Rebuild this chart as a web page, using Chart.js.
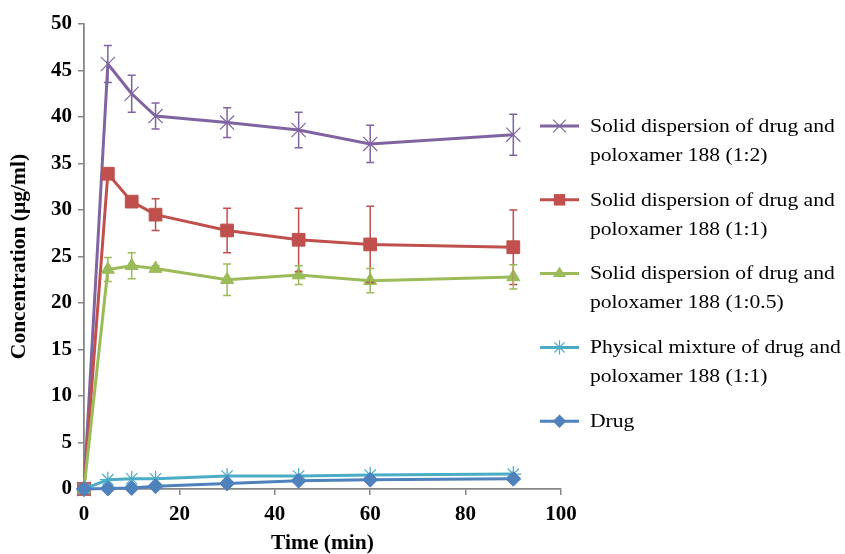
<!DOCTYPE html>
<html>
<head>
<meta charset="utf-8">
<script src="https://cdn.jsdelivr.net/npm/chart.js@4"></script>
<style>
  body { margin: 0; background: #fff; }
  #wrap { width: 845px; height: 554px; position: relative; }
</style>
</head>
<body>
<div id="wrap"><canvas id="myChart"></canvas></div>
<script>
// time points (min)
var times = [0, 5, 10, 15, 30, 45, 60, 90];

// concentrations (ug/ml) and their error bars
var sd12 = [0, 45.7, 42.5, 40.1, 39.4, 38.6, 37.1, 38.1];
var sd12Err = [0, 2.0, 2.0, 1.4, 1.6, 1.9, 2.0, 2.2];
var sd11 = [0, 33.9, 30.9, 29.5, 27.8, 26.8, 26.3, 26.0];
var sd11Err = [0, 0.3, 0.3, 1.7, 2.4, 3.4, 4.1, 4.0];
var sd105 = [0, 23.6, 24.0, 23.7, 22.5, 23.0, 22.4, 22.8];
var sd105Err = [0, 1.3, 1.4, 0.3, 1.7, 1.0, 1.3, 1.3];
var pm11 = [0, 1.0, 1.1, 1.1, 1.4, 1.4, 1.5, 1.6];
var drug = [0, 0.05, 0.1, 0.3, 0.6, 0.9, 1.0, 1.1];

var names = [
    ["Solid dispersion of drug and", "poloxamer 188 (1:2)"],
    ["Solid dispersion of drug and", "poloxamer 188 (1:1)"],
    ["Solid dispersion of drug and", "poloxamer 188 (1:0.5)"],
    ["Physical mixture of drug and", "poloxamer 188 (1:1)"],
    ["Drug"]
];
var yTicks = [0, 5, 10, 15, 20, 25, 30, 35, 40, 45, 50];
var xTicks = [0, 20, 40, 60, 80, 100];

function pts(vals) {
    return times.map(function (t, i) { return { x: t, y: vals[i] }; });
}

function mkSet(i, vals, err, color, style, r, order) {
    return {
        label: names[i].join(" "),
        data: pts(vals),
        err: err,
        borderColor: color,
        backgroundColor: color,
        borderWidth: 3,
        pointStyle: style,
        pointRadius: r,
        pointHoverRadius: r,
        pointBackgroundColor: color,
        pointBorderColor: color,
        pointBorderWidth: (style == 'crossRot' || style == 'star') ? 1.2 : 1,
        tension: 0,
        clip: false,
        order: order
    };
}

var datasets = [
    mkSet(0, sd12, sd12Err, '#8064A2', 'crossRot', 10, 4),
    mkSet(1, sd11, sd11Err, '#C0504D', 'rect', 9, 3),
    mkSet(2, sd105, sd105Err, '#9BBB59', 'triangle', 7.5, 2),
    mkSet(3, pm11, null, '#4BACC6', 'star', 8, 1),
    mkSet(4, drug, null, '#4F81BD', 'rectRot', 7.5, 0)
];

// vertical error bars with caps, drawn through the scales
var errorBars = {
    id: 'errorBars',
    afterDatasetsDraw: function (chart) {
        var ctx = chart.ctx;
        var ys = chart.scales.y;
        chart.data.datasets.forEach(function (ds, di) {
            if (!ds.err) return;
            var meta = chart.getDatasetMeta(di);
            ctx.save();
            ctx.strokeStyle = ds.borderColor;
            ctx.lineWidth = 1.5;
            meta.data.forEach(function (el, i) {
                var e = ds.err[i];
                if (!e) return;
                var v = ds.data[i].y;
                var top = ys.getPixelForValue(v + e);
                var bot = ys.getPixelForValue(v - e);
                ctx.beginPath();
                ctx.moveTo(el.x, top); ctx.lineTo(el.x, bot);
                ctx.moveTo(el.x - 4, top); ctx.lineTo(el.x + 4, top);
                ctx.moveTo(el.x - 4, bot); ctx.lineTo(el.x + 4, bot);
                ctx.stroke();
            });
            ctx.restore();
        });
    }
};

function marker(ctx, style, r, x, y) {
    ctx.beginPath();
    if (style == 'rect') {
        var s = r * Math.SQRT1_2;
        ctx.rect(x - s, y - s, 2 * s, 2 * s);
        ctx.fill();
    } else if (style == 'rectRot') {
        ctx.moveTo(x - r, y); ctx.lineTo(x, y - r); ctx.lineTo(x + r, y); ctx.lineTo(x, y + r);
        ctx.closePath(); ctx.fill();
    } else if (style == 'triangle') {
        var h = r * 1.5;
        ctx.moveTo(x - r, y + h / 3); ctx.lineTo(x, y - 2 * h / 3); ctx.lineTo(x + r, y + h / 3);
        ctx.closePath(); ctx.fill();
    } else {
        var d = r * Math.SQRT1_2;
        ctx.lineWidth = 1.2;
        ctx.moveTo(x - d, y - d); ctx.lineTo(x + d, y + d);
        ctx.moveTo(x - d, y + d); ctx.lineTo(x + d, y - d);
        if (style == 'star') { ctx.moveTo(x, y - r); ctx.lineTo(x, y + r); }
        ctx.stroke();
    }
}

// legend on the right, two-line labels
var sideLegend = {
    id: 'sideLegend',
    afterDraw: function (chart) {
        var ctx = chart.ctx;
        var y0 = 126, step = 73.8;
        chart.data.datasets.forEach(function (ds, i) {
            var y = y0 + i * step;
            ctx.save();
            ctx.strokeStyle = ds.borderColor;
            ctx.fillStyle = ds.borderColor;
            ctx.lineWidth = 3;
            ctx.beginPath();
            ctx.moveTo(540, y); ctx.lineTo(579, y);
            ctx.stroke();
            marker(ctx, ds.pointStyle, ds.pointRadius * 0.9, 559.5, y);
            ctx.restore();

            ctx.save();
            ctx.fillStyle = '#000';
            ctx.font = '18px "Liberation Serif", "Times New Roman", serif';
            ctx.textBaseline = 'middle';
            ctx.translate(590, 0);
            ctx.scale(1.2, 1);
            names[i].forEach(function (line, k) {
                ctx.fillText(line, 0, y + 1 + k * 29);
            });
            ctx.restore();
        });
    }
};

var serif = '"Liberation Serif", "Times New Roman", serif';
var tickFont = { family: serif, size: 21, weight: 'bold' };
var titleFont = { family: serif, size: 21.5, weight: 'bold', lineHeight: 1 };

var config = {
    type: 'line',
    data: { datasets: datasets },
    options: {
        responsive: true,
        maintainAspectRatio: false,
        animation: false,
        layout: { padding: { top: 24, right: 284, left: 0, bottom: 0 } },
        plugins: { legend: { display: false }, tooltip: { enabled: false } },
        scales: {
            x: {
                type: 'linear',
                min: 0, max: 100,
                afterBuildTicks: function (s) { s.ticks = xTicks.map(function (v) { return { value: v }; }); },
                afterFit: function (s) { s.height = 65; },
                grid: { drawOnChartArea: false, drawTicks: true, tickLength: 6, color: '#868686', lineWidth: 1.5 },
                border: { color: '#868686', width: 1.8 },
                ticks: { color: '#000', font: tickFont, padding: 7, maxRotation: 0 },
                title: { display: true, text: 'Time (min)', color: '#000', font: titleFont, padding: { top: 0, bottom: 0 } }
            },
            y: {
                min: 0, max: 50,
                afterBuildTicks: function (s) { s.ticks = yTicks.map(function (v) { return { value: v }; }); },
                afterFit: function (s) { s.width = 84; },
                grid: { drawOnChartArea: false, drawTicks: true, tickLength: 6, color: '#868686', lineWidth: 1.5 },
                border: { color: '#868686', width: 1.8 },
                ticks: { color: '#000', font: tickFont, padding: 6 },
                title: { display: true, text: 'Concentration (µg/ml)', color: '#000', font: titleFont, padding: { top: 9, bottom: 0 } }
            }
        }
    },
    plugins: [errorBars, sideLegend]
};

var myChart = new Chart(document.getElementById("myChart").getContext('2d'), config);
</script>
</body>
</html>
